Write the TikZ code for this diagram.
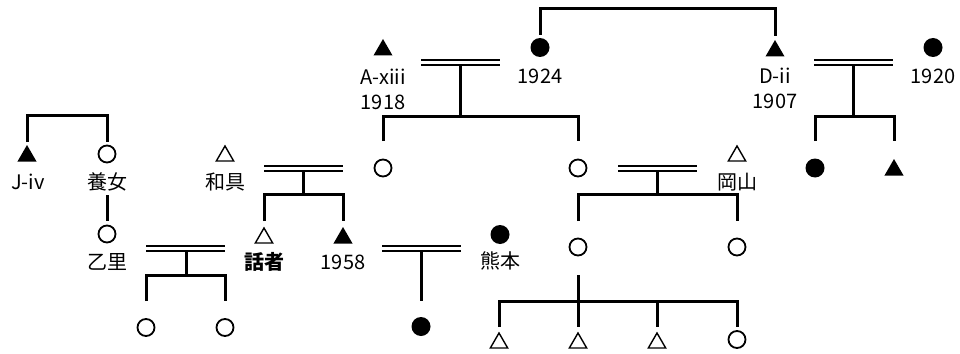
\documentclass[tikz,border=0pt]{standalone}
\usepackage{fontspec}
\setmainfont{Noto Sans CJK JP}
\usetikzlibrary{shapes.geometric}
\tikzset{
  fcirc/.style={circle, fill=black, minimum size=19pt, inner sep=0pt, outer sep=0pt},
  ocirc/.style={circle, draw, line width=1.8pt, minimum size=17pt, inner sep=0pt, outer sep=0pt},
  ftri/.style={regular polygon, regular polygon sides=3, fill=black, minimum size=22pt, inner sep=0pt, outer sep=0pt},
  otri/.style={regular polygon, regular polygon sides=3, draw, line width=1.4pt, minimum size=20pt, inner sep=0pt, outer sep=0pt},
  lbl/.style={inner sep=0pt, font=\fontsize{20}{22}\selectfont},
  ln/.style={line width=3pt},
  mar/.style={double, line width=2.4pt, double distance=2.4pt}
}
\begin{document}
\begin{tikzpicture}[x=1pt, y=-1pt]
\useasboundingbox[fill=white] (0,0) rectangle (960,353);
% symbols
\node[ftri] (a13) at (383,50) {};
\node[fcirc] (f24) at (540,47.5) {};
\node[ftri] (d2) at (775,51) {};
\node[fcirc] (f20) at (933,47.5) {};
\node[ocirc] (c1) at (383,168) {};
\node[ocirc] (c2) at (578,168) {};
\node[fcirc] (d2a) at (815,168) {};
\node[ftri] (d2b) at (894,170) {};
\node[ftri] (j4) at (27,156) {};
\node[ocirc] (yj) at (107,154) {};
\node[otri] (wg) at (225,156) {};
\node[otri] (ok) at (737,156) {};
\node[ocirc] (otsu) at (107,234) {};
\node[otri] (sp) at (264,238) {};
\node[ftri] (m58) at (343,238) {};
\node[fcirc] (km) at (500,234.5) {};
\node[ocirc] (c3) at (578,247) {};
\node[ocirc] (c4) at (737,247) {};
\node[ocirc] (g1) at (146,327.5) {};
\node[ocirc] (g2) at (225,327.5) {};
\node[fcirc] (g3) at (421,326.5) {};
\node[otri] (g4) at (499,343) {};
\node[otri] (g5) at (578,343) {};
\node[otri] (g6) at (657,343) {};
\node[ocirc] (g7) at (737,339.5) {};
% labels
\node[lbl] (la1) at (383,77) {A-xiii};
\node[lbl] (la2) at (383,102) {1918};
\node[lbl] (lf24) at (540,76) {1924};
\node[lbl] (ld1) at (775,76) {D-ii};
\node[lbl] (ld2) at (775,101) {1907};
\node[lbl] (lf20) at (933,76) {1920};
\node[lbl] (lj4) at (28,182) {J-iv};
\node[lbl] (lyj) at (107,182) {養女};
\node[lbl] (lwg) at (225,182) {和具};
\node[lbl] (lok) at (737,182) {岡山};
\node[lbl] (lot) at (107,262) {乙里};
\node[lbl] (lsp) at (264,262) {\bfseries 話者};
\node[lbl] (lm58) at (343,262) {1958};
\node[lbl] (lkm) at (500,261) {熊本};
% junction coordinates
\coordinate (tp) at (657,9);
\coordinate (m1a) at (421,62.5); \coordinate (m1b) at (500,62.5);
\coordinate (m1s) at (460,65);   \coordinate (s1) at (460,116);
\coordinate (m2a) at (814,62.5); \coordinate (m2b) at (893,62.5);
\coordinate (m2s) at (853,65);   \coordinate (s2) at (853,116);
\coordinate (m3a) at (264,168.5); \coordinate (m3b) at (343,168.5);
\coordinate (m3s) at (303,171);   \coordinate (s3) at (303,194);
\coordinate (m4a) at (618,168.5); \coordinate (m4b) at (697,168.5);
\coordinate (m4s) at (657,171);   \coordinate (s4) at (657,194);
\coordinate (m5a) at (146,248.5); \coordinate (m5b) at (225,248.5);
\coordinate (m5s) at (186,251);   \coordinate (s5) at (186,275);
\coordinate (m6a) at (382,248.5); \coordinate (m6b) at (461,248.5);
\coordinate (m6s) at (421,251);
\coordinate (s6) at (578,301);
\coordinate (s7) at (67,115);
% connectors
\draw[ln, shorten <=12.5pt, shorten >=15pt] (f24.center) |- (tp) -| (d2.center);
\draw[mar] (m1a) -- (m1b);
\draw[ln] (m1s) -- (s1);
\draw[ln, shorten <=27pt, shorten >=27pt] (c1.center) |- (s1) -| (c2.center);
\draw[mar] (m2a) -- (m2b);
\draw[ln] (m2s) -- (s2);
\draw[ln, shorten <=27pt, shorten >=29pt] (d2a.center) |- (s2) -| (d2b.center);
\draw[mar] (m3a) -- (m3b);
\draw[ln] (m3s) -- (s3);
\draw[ln, shorten <=17pt, shorten >=17pt] (sp.center) |- (s3) -| (m58.center);
\draw[mar] (m4a) -- (m4b);
\draw[ln] (m4s) -- (s4);
\draw[ln, shorten <=26pt, shorten >=26pt] (c3.center) |- (s4) -| (c4.center);
\draw[mar] (m5a) -- (m5b);
\draw[ln] (m5s) -- (s5);
\draw[ln, shorten <=26.5pt, shorten >=26.5pt] (g1.center) |- (s5) -| (g2.center);
\draw[mar] (m6a) -- (m6b);
\draw[ln, shorten >=25.5pt] (m6s) -- (g3.center);
\draw[ln, shorten <=28pt] (c3.center) -- (s6);
\draw[ln, shorten <=16pt, shorten >=12.5pt] (g4.center) |- (s6) -| (g7.center);
\draw[ln, shorten >=16pt] (s6) -- (g5.center);
\draw[ln, shorten >=16pt] (g6 |- s6) -- (g6.center);
\draw[ln, shorten <=14pt, shorten >=12pt] (j4.center) |- (s7) -| (yj.center);
\draw[ln, shorten <=41pt, shorten >=13pt] (yj.center) -- (otsu.center);
\end{tikzpicture}
\end{document}
